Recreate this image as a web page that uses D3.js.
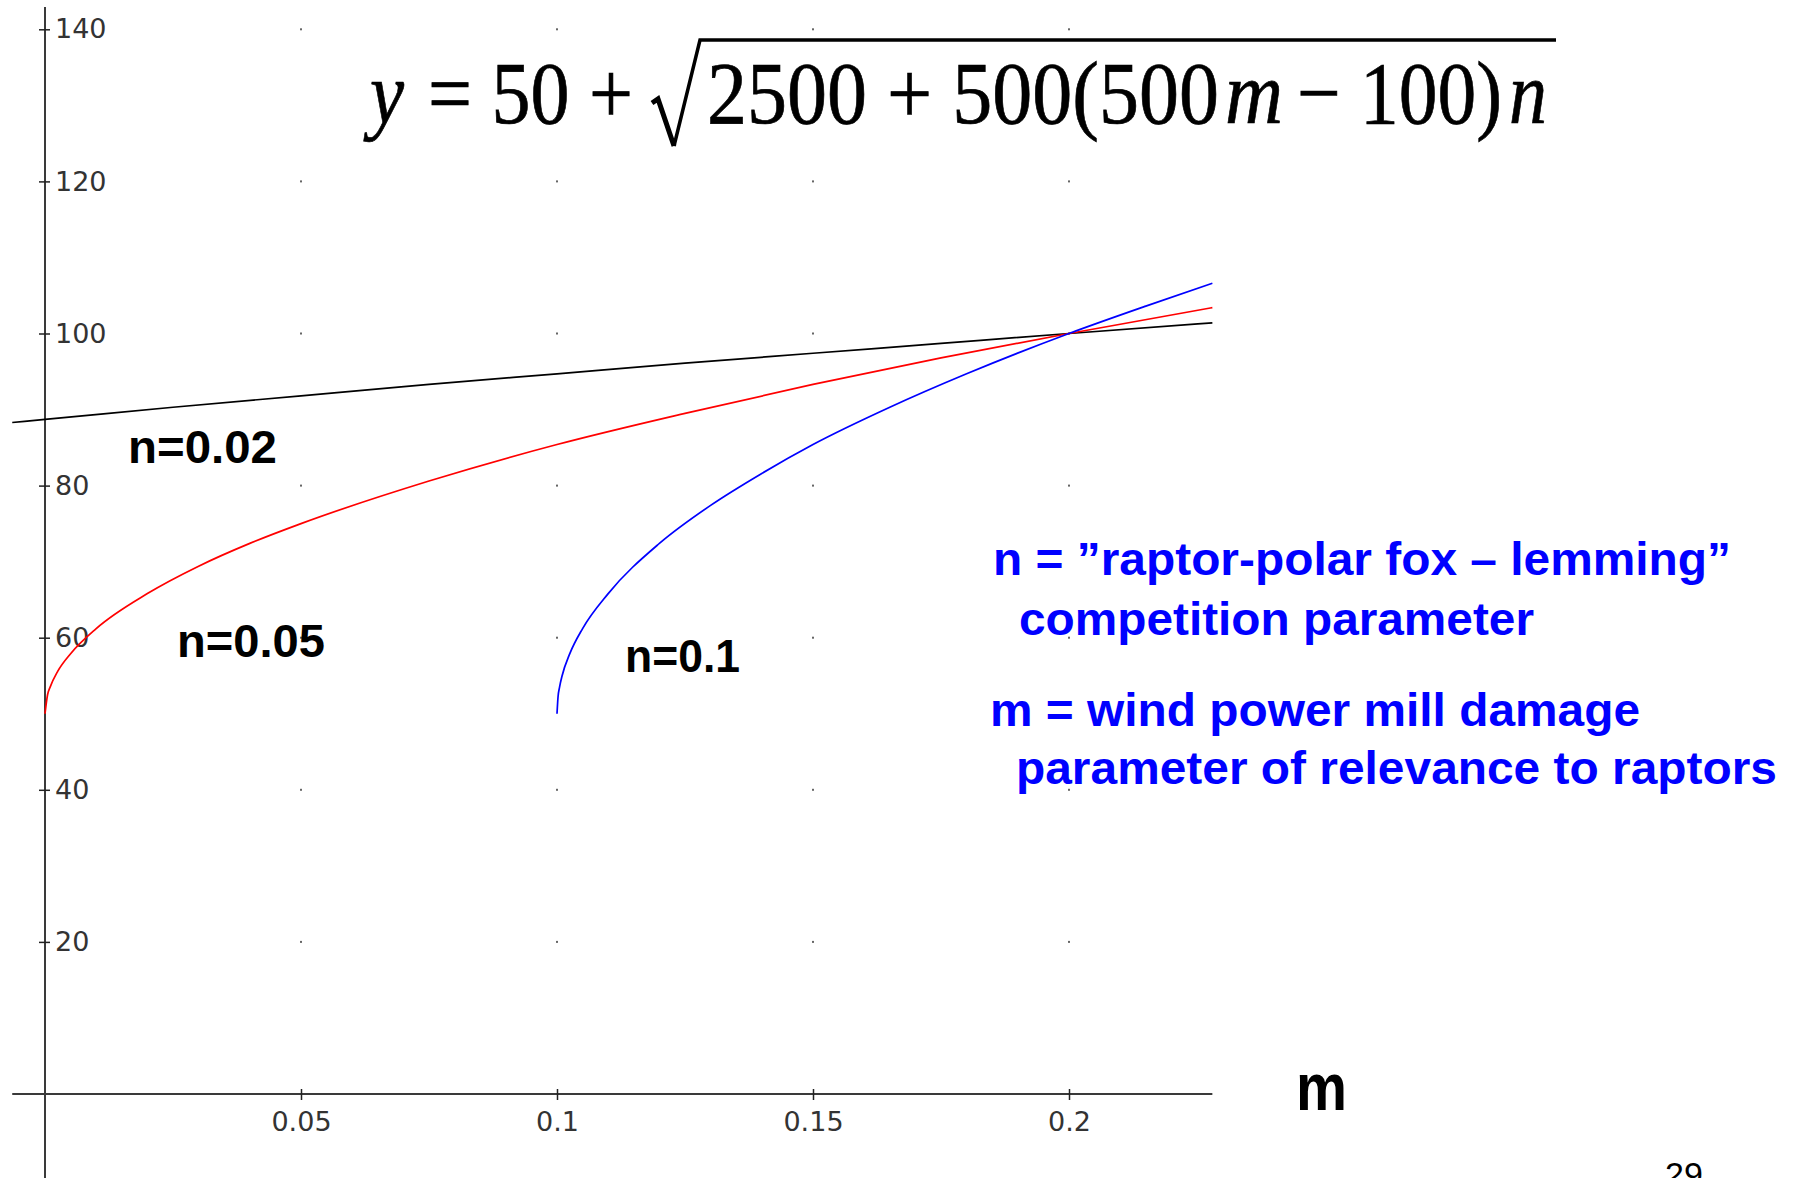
<!DOCTYPE html>
<html>
<head>
<meta charset="utf-8">
<script src="https://cdnjs.cloudflare.com/ajax/libs/d3/7.8.5/d3.min.js"></script>
<style>
    body { margin: 0; background: #fff; }
    svg { display: block; }
    .tick text { font-family: "DejaVu Sans", sans-serif; font-size: 27px; fill: #333; }
</style>
</head>
<body>
<div id="chart-holder"></div>
<script>
// values
var xTicks = [0.05, 0.1, 0.15, 0.2];
var yTicks = [20, 40, 60, 80, 100, 120, 140];
var xExtent = [-0.0064, 0.228];

// n = 0.02 (black)
var mBlack = [-0.0064, 0, 0.025, 0.05, 0.075, 0.1, 0.125, 0.15, 0.175, 0.2, 0.228];
var yBlack = [88.3, 88.7, 90.3, 91.8, 93.3, 94.7, 96.1, 97.4, 98.7, 100, 101.4];

// n = 0.05 (red)
var mRed = [0, 0.0005, 0.001, 0.0025, 0.005, 0.01, 0.02, 0.03, 0.04, 0.05, 0.075, 0.1, 0.125, 0.15, 0.175, 0.2, 0.228];
var yRed = [50, 52.5, 53.5, 55.6, 57.9, 61.2, 65.8, 69.4, 72.4, 75, 80.6, 85.4, 89.5, 93.3, 96.8, 100, 103.4];

// n = 0.1 (blue)
var mBlue = [0.1, 0.1002, 0.1005, 0.101, 0.1025, 0.105, 0.11, 0.12, 0.13, 0.14, 0.15, 0.165, 0.18, 0.2, 0.215, 0.228];
var yBlue = [50, 52.2, 53.5, 55, 57.9, 61.2, 65.8, 72.4, 77.4, 81.6, 85.4, 90.3, 94.7, 100, 103.6, 106.6];

var seriesNames = ['n=0.02', 'n=0.05', 'n=0.1'];
var noteLines = [
    'n = \u201draptor-polar fox \u2013 lemming\u201d',
    'competition parameter',
    'm = wind power mill damage',
    'parameter of relevance to raptors'
];

// formula pieces: text, italic
var formulaParts = [
    ['y', true],
    ['= 50 +', false],
    ['2500 + 500(500', false],
    ['m', true],
    ['\u2212 100)', false],
    ['n', true]
];

function buildChart(containerId) {
    var width = 1798;
    var height = 1178;

    var svg = d3
        .select(containerId)
        .append('svg')
        .attr('width', width)
        .attr('height', height);

    // scales
    var x = d3.scaleLinear().domain([0, 0.2]).range([45, 1069]);
    var y = d3.scaleLinear().domain([0, 140]).range([1094, 29.3]);

    // grid dots
    var dots = [];
    xTicks.forEach(function(mx) {
        yTicks.forEach(function(vy) {
            dots.push([mx, vy]);
        });
    });
    svg
        .append('g')
        .selectAll('rect')
        .data(dots)
        .enter()
        .append('rect')
        .attr('x', function(d) { return x(d[0]) - 1; })
        .attr('y', function(d) { return y(d[1]) - 1; })
        .attr('width', 2)
        .attr('height', 2)
        .attr('fill', '#666');

    // axis lines
    svg
        .append('line')
        .attr('x1', x(xExtent[0]))
        .attr('x2', x(xExtent[1]))
        .attr('y1', y(0))
        .attr('y2', y(0))
        .attr('stroke', '#3a3a3a')
        .attr('stroke-width', 2);

    svg
        .append('line')
        .attr('x1', x(0))
        .attr('x2', x(0))
        .attr('y1', 7)
        .attr('y2', height)
        .attr('stroke', '#3a3a3a')
        .attr('stroke-width', 2);

    // x axis ticks
    var xAxis = d3
        .axisBottom(x)
        .tickValues(xTicks)
        .tickSize(6)
        .tickPadding(12)
        .tickFormat(function(d) { return String(d); });

    var gx = svg
        .append('g')
        .attr('class', 'x-axis')
        .attr('transform', 'translate(0,' + y(0) + ')')
        .call(xAxis);
    gx.select('.domain').remove();
    gx.selectAll('.tick line').attr('y1', -5).attr('stroke', '#222').attr('stroke-width', 1.5);

    // y axis ticks
    var yAxis = d3
        .axisRight(y)
        .tickValues(yTicks)
        .tickSize(5)
        .tickPadding(5);

    var gy = svg
        .append('g')
        .attr('class', 'y-axis')
        .attr('transform', 'translate(' + x(0) + ',0)')
        .call(yAxis);
    gy.select('.domain').remove();
    gy.selectAll('.tick line').attr('x1', -6).attr('stroke', '#222').attr('stroke-width', 1.5);

    // curves
    var line = d3
        .line()
        .x(function(d) { return x(d[0]); })
        .y(function(d) { return y(d[1]); })
        .curve(d3.curveMonotoneX);

    var series = [
        { m: mBlack, v: yBlack, color: '#000' },
        { m: mRed, v: yRed, color: '#ff0000' },
        { m: mBlue, v: yBlue, color: '#0000ff' }
    ];

    svg
        .selectAll('.curve')
        .data(series)
        .enter()
        .append('path')
        .attr('class', 'curve')
        .attr('d', function(s) {
            return line(s.m.map(function(mv, i) { return [mv, s.v[i]]; }));
        })
        .attr('fill', 'none')
        .attr('stroke', function(s) { return s.color; })
        .attr('stroke-width', 1.7);

    // series labels
    var labelPos = [[128, 463, 149], [177, 657, 148], [625, 672, 115]];
    svg
        .selectAll('.series-label')
        .data(seriesNames)
        .enter()
        .append('text')
        .attr('class', 'series-label')
        .attr('x', function(d, i) { return labelPos[i][0]; })
        .attr('y', function(d, i) { return labelPos[i][1]; })
        .attr('textLength', function(d, i) { return labelPos[i][2]; })
        .attr('lengthAdjust', 'spacingAndGlyphs')
        .style('font-family', '"Liberation Sans", Arial, sans-serif')
        .style('font-weight', 'bold')
        .style('font-size', '47px')
        .attr('fill', '#000')
        .text(function(d) { return d; });

    // blue notes
    var notePos = [[993, 575, 738], [1019, 635, 515], [990, 726, 650], [1016, 784, 761]];
    svg
        .selectAll('.note')
        .data(noteLines)
        .enter()
        .append('text')
        .attr('class', 'note')
        .attr('x', function(d, i) { return notePos[i][0]; })
        .attr('y', function(d, i) { return notePos[i][1]; })
        .attr('textLength', function(d, i) { return notePos[i][2]; })
        .attr('lengthAdjust', 'spacingAndGlyphs')
        .style('font-family', '"Liberation Sans", Arial, sans-serif')
        .style('font-weight', 'bold')
        .style('font-size', '47px')
        .attr('fill', '#0000ff')
        .text(function(d) { return d; });

    // m axis label
    svg
        .append('text')
        .attr('x', 1296)
        .attr('y', 1110)
        .attr('textLength', 51)
        .attr('lengthAdjust', 'spacingAndGlyphs')
        .style('font-family', '"Liberation Sans", Arial, sans-serif')
        .style('font-weight', 'bold')
        .style('font-size', '66px')
        .text('m');

    // page number
    svg
        .append('text')
        .attr('x', 1665)
        .attr('y', 1186)
        .style('font-family', '"Liberation Sans", Arial, sans-serif')
        .style('font-size', '34px')
        .text('29');

    // formula: pieces squeezed into their spans, then stretched upward
    var baseline = 123;
    var partPos = [[370, 34], [428, 205], [707, 512], [1225, 58], [1297, 205], [1509, 38]];
    var formula = svg
        .append('g')
        .attr('class', 'formula')
        .attr('transform', 'translate(0,' + baseline + ') scale(1,1.16) translate(0,' + (-baseline) + ')')
        .style('font-family', '"Liberation Serif", "Times New Roman", serif')
        .style('font-size', '77px')
        .attr('stroke', '#000')
        .attr('stroke-width', 0.6);

    formula
        .selectAll('text')
        .data(formulaParts)
        .enter()
        .append('text')
        .attr('x', function(d, i) { return partPos[i][0]; })
        .attr('y', baseline)
        .attr('textLength', function(d, i) { return partPos[i][1]; })
        .attr('lengthAdjust', 'spacingAndGlyphs')
        .style('font-style', function(d) { return d[1] ? 'italic' : 'normal'; })
        .text(function(d) { return d[0]; });

    // radical sign
    var radical = svg.append('g').attr('stroke', '#000').attr('fill', 'none');
    radical
        .append('path')
        .attr('d', 'M652,103 L658,99 L674,146')
        .attr('stroke-width', 5);
    radical
        .append('path')
        .attr('d', 'M674,146 L700,40 L1556,40')
        .attr('stroke-width', 3.5);
}

buildChart('#chart-holder');
</script>
</body>
</html>
